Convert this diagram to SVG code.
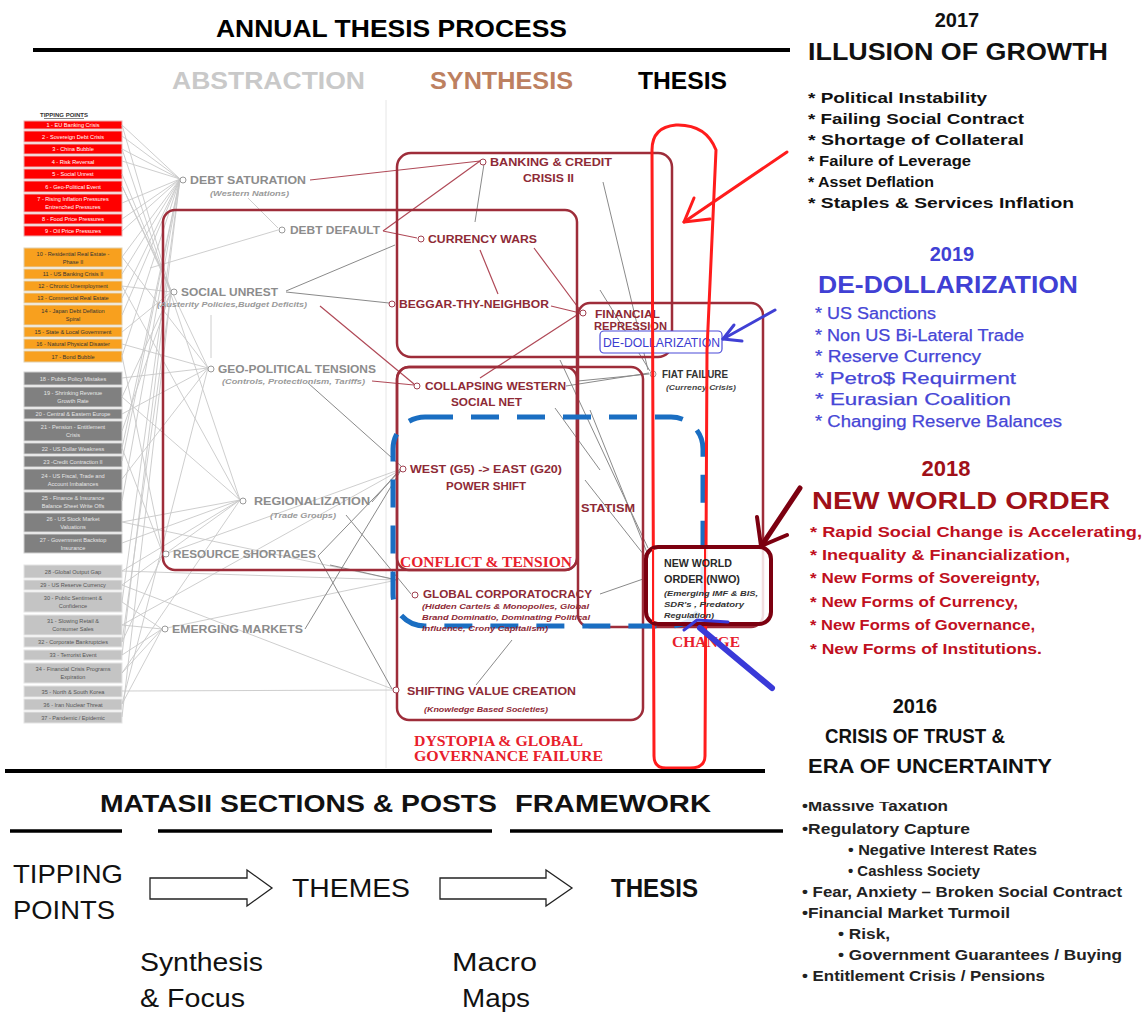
<svg xmlns="http://www.w3.org/2000/svg" width="1146" height="1017" viewBox="0 0 1146 1017">
<defs>
<style>
.h{font-family:"Liberation Sans",Arial,sans-serif;font-weight:bold}
.r{font-family:"Liberation Sans",Arial,sans-serif}
.tp{font-family:"Liberation Sans",Arial,sans-serif;font-size:5.6px;text-anchor:middle}
.ab{font-family:"Liberation Sans",Arial,sans-serif;font-weight:bold;font-size:11.5px;fill:#8c8c8c}
.abs{font-family:"Liberation Sans",Arial,sans-serif;font-weight:bold;font-style:italic;font-size:7.5px;fill:#9a9a9a}
.sy{font-family:"Liberation Sans",Arial,sans-serif;font-weight:bold;font-size:11px;fill:#8e2a36}
.sys{font-family:"Liberation Sans",Arial,sans-serif;font-weight:bold;font-style:italic;font-size:7.3px;fill:#8e2a36}
.rs{font-family:"Liberation Serif","Times New Roman",serif;font-weight:bold;fill:#e8202c}
.dot{fill:#fff;stroke:#999;stroke-width:1}
.rdot{fill:#fff;stroke:#a04050;stroke-width:1}
.box{fill:none;stroke:#9e2d3a;stroke-width:2.5}
.gl{stroke:#c8c8c8;stroke-width:0.9;fill:none}
.gd{stroke:#8a8a8a;stroke-width:1;fill:none}
.rl{stroke:#b04a58;stroke-width:1.2;fill:none}
.b17{font-family:"Liberation Sans",Arial,sans-serif;font-weight:bold;font-size:15px;fill:#111}
.b19{font-family:"Liberation Sans",Arial,sans-serif;font-size:16px;fill:#4646d6;stroke:#4646d6;stroke-width:0.25}
.b18{font-family:"Liberation Sans",Arial,sans-serif;font-weight:bold;font-size:15px;fill:#c0101e}
.b16{font-family:"Liberation Sans",Arial,sans-serif;font-weight:bold;font-size:14.5px;fill:#222}
.big{font-family:"Liberation Sans",Arial,sans-serif;font-size:26px;fill:#111}
</style>
<clipPath id="clip16"><rect x="790" y="802" width="356" height="200"/></clipPath>
</defs>
<rect width="1146" height="1017" fill="#fff"/>

<!-- headers -->
<g id="headers">
<text class="h" x="216" y="37" font-size="23" textLength="351" lengthAdjust="spacingAndGlyphs">ANNUAL THESIS PROCESS</text>
<line x1="33" y1="50" x2="790" y2="50" stroke="#000" stroke-width="4"/>
<text class="h" x="172" y="89" font-size="23" fill="#c9c9c9" textLength="193" lengthAdjust="spacingAndGlyphs">ABSTRACTION</text>
<text class="h" x="430" y="89" font-size="23" fill="#bd8060" textLength="143" lengthAdjust="spacingAndGlyphs">SYNTHESIS</text>
<text class="h" x="638" y="89" font-size="23" fill="#000" textLength="89" lengthAdjust="spacingAndGlyphs">THESIS</text>
</g>

<!-- tipping points list -->
<g id="tipping-points">
<text class="h" x="64" y="117" font-size="6" text-anchor="middle" fill="#333">TIPPING POINTS</text>
<line x1="44" y1="118.5" x2="84" y2="118.5" stroke="#333" stroke-width="0.6"/>
<g fill="#ff0000" stroke="#e8b0b0" stroke-width="1">
<rect x="24" y="121" width="98" height="8"/><rect x="24" y="131" width="98" height="11"/><rect x="24" y="144" width="98" height="10"/><rect x="24" y="156" width="98" height="11"/><rect x="24" y="169" width="98" height="10"/><rect x="24" y="181" width="98" height="11"/><rect x="24" y="194" width="98" height="18"/><rect x="24" y="214" width="98" height="10"/><rect x="24" y="226" width="98" height="10"/>
</g>
<g class="tp" fill="#fff">
<text x="73" y="127">1 - EU Banking Crisis</text>
<text x="73" y="138.5">2 - Sovereign Debt Crisis</text>
<text x="73" y="151">3 - China Bubble</text>
<text x="73" y="163.5">4 - Risk Reversal</text>
<text x="73" y="176">5 - Social Unrest</text>
<text x="73" y="188.5">6 - Geo-Political Event</text>
<text x="73" y="201">7 - Rising Inflation Pressures</text>
<text x="73" y="208.5">Entrenched Pressures</text>
<text x="73" y="221">8 - Food Price Pressures</text>
<text x="73" y="233">9 - Oil Price Pressures</text>
</g>
<g fill="#f8a01e" stroke="#e0d0b0" stroke-width="1">
<rect x="24" y="248" width="98" height="19"/><rect x="24" y="269" width="98" height="10"/><rect x="24" y="281" width="98" height="10"/><rect x="24" y="293" width="98" height="10"/><rect x="24" y="305" width="98" height="20"/><rect x="24" y="327" width="98" height="10"/><rect x="24" y="339" width="98" height="10"/><rect x="24" y="351" width="98" height="11"/>
</g>
<g class="tp" fill="#333">
<text x="73" y="255.5">10 - Residential Real Estate -</text>
<text x="73" y="263.5">Phase II</text>
<text x="73" y="276">11 - US Banking Crisis II</text>
<text x="73" y="288">12 - Chronic Unemployment</text>
<text x="73" y="300">13 - Commercial Real Estate</text>
<text x="73" y="313">14 - Japan Debt Deflation</text>
<text x="73" y="321">Spiral</text>
<text x="73" y="334">15 - State &amp; Local Government</text>
<text x="73" y="346">16 - Natural Physical Disaster</text>
<text x="73" y="358.5">17 - Bond Bubble</text>
</g>
<g fill="#808080" stroke="#d0d0d0" stroke-width="1">
<rect x="24" y="372" width="98" height="13"/><rect x="24" y="387" width="98" height="20"/><rect x="24" y="409" width="98" height="10"/><rect x="24" y="421" width="98" height="20"/><rect x="24" y="443" width="98" height="11"/><rect x="24" y="456" width="98" height="11"/><rect x="24" y="469" width="98" height="21"/><rect x="24" y="492" width="98" height="19"/><rect x="24" y="513" width="98" height="19"/><rect x="24" y="534" width="98" height="19"/>
</g>
<g class="tp" fill="#e6e6e6">
<text x="73" y="380.5">18 - Public Policy Mistakes</text>
<text x="73" y="395">19 - Shrinking Revenue</text>
<text x="73" y="403">Growth Rate</text>
<text x="73" y="416">20 - Central &amp; Eastern Europe</text>
<text x="73" y="429">21 - Pension - Entitlement</text>
<text x="73" y="437">Crisis</text>
<text x="73" y="450.5">22 - US Dollar Weakness</text>
<text x="73" y="463.5">23 -Credit Contraction II</text>
<text x="73" y="477.5">24 - US Fiscal, Trade and</text>
<text x="73" y="485.5">Account Imbalances</text>
<text x="73" y="499.5">25 - Finance &amp; Insurance</text>
<text x="73" y="507.5">Balance Sheet Write Offs</text>
<text x="73" y="520.5">26 - US Stock Market</text>
<text x="73" y="528.5">Valuations</text>
<text x="73" y="541.5">27 - Government Backstop</text>
<text x="73" y="549.5">Insurance</text>
</g>
<g fill="#c4c4c4" stroke="#e4e4e4" stroke-width="1">
<rect x="24" y="565" width="98" height="13"/><rect x="24" y="580" width="98" height="10"/><rect x="24" y="592" width="98" height="20"/><rect x="24" y="615" width="98" height="20"/><rect x="24" y="637" width="98" height="10"/><rect x="24" y="650" width="98" height="10"/><rect x="24" y="663" width="98" height="20"/><rect x="24" y="686" width="98" height="11"/><rect x="24" y="699" width="98" height="11"/><rect x="24" y="712" width="98" height="11"/>
</g>
<g class="tp" fill="#555">
<text x="73" y="573.5">28 -Global Output Gap</text>
<text x="73" y="587">29 - US Reserve Currency</text>
<text x="73" y="600">30 - Public Sentiment &amp;</text>
<text x="73" y="608">Confidence</text>
<text x="73" y="623">31 - Slowing Retail &amp;</text>
<text x="73" y="631">Consumer Sales</text>
<text x="73" y="644">32 - Corporate Bankruptcies</text>
<text x="73" y="657">33 - Terrorist Event</text>
<text x="73" y="671">34 - Financial Crisis Programs</text>
<text x="73" y="679">Expiration</text>
<text x="73" y="693.5">35 - North &amp; South Korea</text>
<text x="73" y="706.5">36 - Iran Nuclear Threat</text>
<text x="73" y="719.5">37 - Pandemic / Epidemic</text>
</g>
</g>

<!-- connectors -->
<g id="connectors">
<line x1="386" y1="100" x2="386" y2="768" stroke="#e6e6e6" stroke-width="1"/>
<path class="gl" d="M122,125 L180,179 M122,136 L180,179 M122,149 L180,179 M122,161 L180,179 M122,174 L171,292 M122,186 L208,368 M122,203 L180,179 M122,219 L180,179 M122,231 L180,179 M122,125 L171,292 M122,149 L240,500 M122,186 L171,292
M122,257 L180,179 M122,274 L180,179 M122,286 L171,292 M122,298 L180,179 M122,315 L180,179 M122,332 L171,292 M122,344 L208,368 M122,356 L180,179 M122,257 L208,368 M122,286 L240,500 M122,356 L163,554
M122,378 L208,368 M122,397 L171,292 M122,414 L208,368 M122,431 L171,292 M122,448 L180,179 M122,461 L180,179 M122,479 L208,368 M122,501 L180,179 M122,522 L240,500 M122,543 L240,500 M122,397 L240,500 M122,448 L163,554
M122,571 L240,500 M122,585 L240,500 M122,602 L162,629 M122,625 L162,629 M122,642 L163,554 M122,655 L162,629 M122,673 L162,629 M122,691 L395,690 M122,704 L162,629 M122,717 L171,292 M122,625 L404,468 M122,571 L397,580 M122,585 L395,690 M122,602 L180,179 M122,655 L180,179 M122,704 L208,368 M122,642 L171,292 M122,522 L397,580 M122,673 L240,500"/>
<path class="gl" d="M248,198 L278,228 M278,230 L150,268 M211,315 L211,358 M165,554 L404,468 M162,629 L397,580"/>
<path class="rl" d="M310,180 L480,161 M383,231 L480,161 M383,231 L417,238 M320,306 L414,384 M372,381 L414,385 M480,250 L498,294 M534,248 L580,310 M551,306 L580,313 M480,378 L580,313"/>
<path class="gd" d="M286,291 L395,245 M286,292 L389,303 M484,164 L475,222 M603,182 L648,370 M308,383 L401,466 M372,502 L401,468 M318,556 L401,470 M318,556 L392,689 M305,629 L401,470 M346,515 L411,594 M600,594 L646,578 M476,685 L512,640 M566,386 L649,373 M560,360 L648,548 M590,410 L650,560 M585,480 L648,560 M600,290 L650,371 M578,381 L649,374 M555,408 L600,470 M330,565 L397,580"/>
</g>

<!-- group boxes -->
<g id="group-boxes">
<rect class="box" x="163" y="210" width="414" height="360" rx="12"/>
<rect class="box" x="397" y="153" width="275" height="204" rx="14"/>
<rect class="box" x="397" y="367" width="180" height="203" rx="12"/>
<rect class="box" x="397" y="367" width="246" height="353" rx="12"/>
<rect class="box" x="578" y="303" width="185" height="324" rx="12"/>
<rect x="393" y="417" width="310" height="209" rx="32" fill="none" stroke="#1a6ec2" stroke-width="5" stroke-dasharray="28 18"/>
</g>

<!-- abstraction nodes -->
<g id="debt-saturation"><circle class="dot" cx="183" cy="180" r="3"/><text class="ab" x="190" y="184" textLength="116" lengthAdjust="spacingAndGlyphs">DEBT SATURATION</text><text class="abs" x="210" y="196" textLength="79" lengthAdjust="spacingAndGlyphs">(Western Nations)</text></g>
<g id="debt-default"><circle class="dot" cx="282" cy="230" r="3"/><text class="ab" x="290" y="234" textLength="90" lengthAdjust="spacingAndGlyphs">DEBT DEFAULT</text></g>
<g id="social-unrest"><circle class="dot" cx="174" cy="292" r="3"/><text class="ab" x="181" y="296" textLength="97" lengthAdjust="spacingAndGlyphs">SOCIAL UNREST</text><text class="abs" x="157" y="307" textLength="150" lengthAdjust="spacingAndGlyphs">(Austerity Policies,Budget Deficits)</text></g>
<g id="geo-political-tensions"><circle class="dot" cx="211" cy="369" r="3"/><text class="ab" x="218" y="373" textLength="158" lengthAdjust="spacingAndGlyphs">GEO-POLITICAL TENSIONS</text><text class="abs" x="222" y="384" textLength="143" lengthAdjust="spacingAndGlyphs">(Controls, Protectionism, Tariffs)</text></g>
<g id="regionalization"><circle class="dot" cx="243" cy="501" r="3"/><text class="ab" x="254" y="505" textLength="116" lengthAdjust="spacingAndGlyphs">REGIONALIZATION</text><text class="abs" x="270" y="518" textLength="66" lengthAdjust="spacingAndGlyphs">(Trade Groups)</text></g>
<g id="resource-shortages"><circle class="dot" cx="166" cy="554" r="3"/><text class="ab" x="173" y="558" textLength="143" lengthAdjust="spacingAndGlyphs">RESOURCE SHORTAGES</text></g>
<g id="emerging-markets"><circle class="dot" cx="165" cy="629" r="3"/><text class="ab" x="172" y="633" textLength="131" lengthAdjust="spacingAndGlyphs">EMERGING MARKETS</text></g>

<!-- synthesis nodes -->
<g id="banking-credit-crisis"><circle class="rdot" cx="483" cy="162" r="3"/><text class="sy" x="490" y="166" textLength="122" lengthAdjust="spacingAndGlyphs">BANKING &amp; CREDIT</text><text class="sy" x="523" y="182" textLength="51" lengthAdjust="spacingAndGlyphs">CRISIS II</text></g>
<g id="currency-wars"><circle class="rdot" cx="421" cy="239" r="3"/><text class="sy" x="428" y="243" textLength="109" lengthAdjust="spacingAndGlyphs">CURRENCY WARS</text></g>
<g id="beggar-thy-neighbor"><circle class="rdot" cx="392" cy="304" r="3"/><text class="sy" x="399" y="308" textLength="150" lengthAdjust="spacingAndGlyphs">BEGGAR-THY-NEIGHBOR</text></g>
<g id="collapsing-western-social-net"><circle class="rdot" cx="417" cy="386" r="3"/><text class="sy" x="425" y="390" textLength="141" lengthAdjust="spacingAndGlyphs">COLLAPSING WESTERN</text><text class="sy" x="451" y="406" textLength="71" lengthAdjust="spacingAndGlyphs">SOCIAL NET</text></g>
<g id="west-east-power-shift"><circle class="rdot" cx="403" cy="469" r="3"/><text class="sy" x="410" y="473" textLength="152" lengthAdjust="spacingAndGlyphs">WEST (G5) -&gt; EAST (G20)</text><text class="sy" x="446" y="490" textLength="80" lengthAdjust="spacingAndGlyphs">POWER SHIFT</text></g>
<g id="conflict-tension"><text class="rs" x="400" y="567" font-size="14" textLength="172" lengthAdjust="spacingAndGlyphs">CONFLICT &amp; TENSION</text></g>
<g id="global-corporatocracy"><circle class="rdot" cx="415" cy="595" r="3"/><text class="sy" x="423" y="598" textLength="169" lengthAdjust="spacingAndGlyphs">GLOBAL CORPORATOCRACY</text><text class="sys" x="422" y="609" textLength="167" lengthAdjust="spacingAndGlyphs">(Hidden Cartels &amp; Monopolies, Global</text><text class="sys" x="422" y="620" textLength="168" lengthAdjust="spacingAndGlyphs">Brand Dominatio, Dominating Political</text><text class="sys" x="422" y="631" textLength="126" lengthAdjust="spacingAndGlyphs">Influence, Crony Capitalism)</text></g>
<g id="shifting-value-creation"><circle class="rdot" cx="396" cy="690" r="3"/><text class="sy" x="407" y="695" textLength="169" lengthAdjust="spacingAndGlyphs">SHIFTING VALUE CREATION</text><text class="sys" x="424" y="712" textLength="124" lengthAdjust="spacingAndGlyphs">(Knowledge Based Societies)</text></g>
<g id="dystopia"><text class="rs" x="414" y="746" font-size="15" textLength="169" lengthAdjust="spacingAndGlyphs">DYSTOPIA &amp; GLOBAL</text><text class="rs" x="414" y="761" font-size="15" textLength="189" lengthAdjust="spacingAndGlyphs">GOVERNANCE FAILURE</text></g>
<g id="statism"><text class="sy" x="581" y="512" textLength="54" lengthAdjust="spacingAndGlyphs">STATISM</text></g>
<g id="financial-repression"><circle class="rdot" cx="583" cy="313" r="3"/><text class="sy" x="595" y="318" textLength="65" lengthAdjust="spacingAndGlyphs">FINANCIAL</text><text class="sy" x="594" y="330" textLength="73" lengthAdjust="spacingAndGlyphs">REPRESSION</text></g>
<g id="de-dollarization-tag"><rect x="600" y="331" width="122" height="22" rx="4" fill="#fff" stroke="#4a4ad8" stroke-width="1.2"/><text class="r" x="603" y="347" font-size="12" fill="#3c3cd0" textLength="117" lengthAdjust="spacingAndGlyphs">DE-DOLLARIZATION</text></g>
<g id="fiat-failure"><circle class="dot" cx="653" cy="374" r="3"/><text class="sy" x="662" y="378" style="fill:#333" textLength="66" lengthAdjust="spacingAndGlyphs">FIAT FAILURE</text><text class="sys" x="666" y="390" style="fill:#444" textLength="70" lengthAdjust="spacingAndGlyphs">(Currency Crisis)</text></g>

<!-- red pill -->
<g id="thesis-highlight">
<path d="M652,150 Q652,127 676,125 Q706,124 716,150 L707,350 L705,756 Q705,768 690,768 L666,768 Q654,768 654,756 Z" fill="none" stroke="#ff1c1c" stroke-width="3"/>
</g>

<g id="new-world-order">
<rect x="646" y="547" width="125" height="77" rx="12" fill="#fff" fill-opacity="0.85" stroke="#7c0010" stroke-width="4"/>
<line x1="653" y1="549" x2="653" y2="622" stroke="#ff1c1c" stroke-width="2"/>
<line x1="705" y1="549" x2="705" y2="622" stroke="#ff1c1c" stroke-width="2"/>
<text class="sy" x="664" y="567" style="fill:#2a2a2a" textLength="68" lengthAdjust="spacingAndGlyphs">NEW WORLD</text>
<text class="sy" x="664" y="583" style="fill:#2a2a2a" textLength="76" lengthAdjust="spacingAndGlyphs">ORDER (NWO)</text>
<text class="sys" x="664" y="596" style="fill:#333" textLength="94" lengthAdjust="spacingAndGlyphs">(Emerging IMF &amp; BIS,</text>
<text class="sys" x="664" y="607" style="fill:#333" textLength="80" lengthAdjust="spacingAndGlyphs">SDR's , Predatory</text>
<text class="sys" x="664" y="618" style="fill:#333" textLength="50" lengthAdjust="spacingAndGlyphs">Regulation)</text>
</g>
<g id="change"><text class="rs" x="672" y="647" font-size="15" textLength="68" lengthAdjust="spacingAndGlyphs">CHANGE</text></g>

<!-- arrows -->
<g id="arrows" fill="none" stroke-linecap="round" stroke-linejoin="round">
<line x1="787" y1="152" x2="684" y2="222" stroke="#ff1c1c" stroke-width="3"/>
<path d="M694,198 L684,222 L710,219" stroke="#ff1c1c" stroke-width="3"/>
<line x1="775" y1="310" x2="723" y2="339" stroke="#4040d4" stroke-width="3"/>
<path d="M734,325 L723,339 L742,341" stroke="#4040d4" stroke-width="3"/>
<line x1="800" y1="488" x2="762" y2="545" stroke="#7c0010" stroke-width="5"/>
<path d="M757,517 L761,546 L787,535" stroke="#7c0010" stroke-width="4"/>
<line x1="772" y1="688" x2="700" y2="628" stroke="#3a3ad8" stroke-width="6"/>
<path d="M684,630 L697,620 L728,622" stroke="#3a3ad8" stroke-width="3"/>
</g>

<!-- right column -->
<g id="y2017">
<text class="h" x="957" y="27" font-size="20" text-anchor="middle" fill="#111">2017</text>
<text class="h" x="808" y="60" font-size="24" fill="#111" textLength="300" lengthAdjust="spacingAndGlyphs">ILLUSION OF GROWTH</text>
<text class="b17" x="808" y="103" textLength="179" lengthAdjust="spacingAndGlyphs">* Political Instability</text>
<text class="b17" x="808" y="124" textLength="216" lengthAdjust="spacingAndGlyphs">* Failing Social Contract</text>
<text class="b17" x="808" y="145" textLength="216" lengthAdjust="spacingAndGlyphs">* Shortage of Collateral</text>
<text class="b17" x="808" y="166" textLength="163" lengthAdjust="spacingAndGlyphs">* Failure of Leverage</text>
<text class="b17" x="808" y="187" textLength="126" lengthAdjust="spacingAndGlyphs">* Asset Deflation</text>
<text class="b17" x="808" y="208" textLength="266" lengthAdjust="spacingAndGlyphs">* Staples &amp; Services Inflation</text>
</g>
<g id="y2019">
<text class="h" x="952" y="261" font-size="20" text-anchor="middle" fill="#4040d4">2019</text>
<text class="h" x="818" y="293" font-size="24" fill="#4040d4" textLength="260" lengthAdjust="spacingAndGlyphs">DE-DOLLARIZATION</text>
<text class="b19" x="815" y="319" textLength="121" lengthAdjust="spacingAndGlyphs">* US Sanctions</text>
<text class="b19" x="815" y="341" textLength="209" lengthAdjust="spacingAndGlyphs">* Non US Bi-Lateral Trade</text>
<text class="b19" x="815" y="362" textLength="166" lengthAdjust="spacingAndGlyphs">* Reserve Currency</text>
<text class="b19" x="815" y="384" textLength="201" lengthAdjust="spacingAndGlyphs">* Petro$ Requirment</text>
<text class="b19" x="815" y="405" textLength="196" lengthAdjust="spacingAndGlyphs">* Eurasian Coalition</text>
<text class="b19" x="815" y="427" textLength="247" lengthAdjust="spacingAndGlyphs">* Changing Reserve Balances</text>
</g>
<g id="y2018">
<text class="h" x="946" y="476" font-size="22" text-anchor="middle" fill="#a01018">2018</text>
<text class="h" x="812" y="509" font-size="24" fill="#a01018" textLength="298" lengthAdjust="spacingAndGlyphs">NEW WORLD ORDER</text>
<text class="b18" x="810" y="537" textLength="332" lengthAdjust="spacingAndGlyphs">* Rapid Social Change is Accelerating,</text>
<text class="b18" x="810" y="560" textLength="260" lengthAdjust="spacingAndGlyphs">* Inequality &amp; Financialization,</text>
<text class="b18" x="810" y="583" textLength="230" lengthAdjust="spacingAndGlyphs">* New Forms of Sovereignty,</text>
<text class="b18" x="810" y="607" textLength="208" lengthAdjust="spacingAndGlyphs">* New Forms of Currency,</text>
<text class="b18" x="810" y="630" textLength="225" lengthAdjust="spacingAndGlyphs">* New Forms of Governance,</text>
<text class="b18" x="810" y="654" textLength="232" lengthAdjust="spacingAndGlyphs">* New Forms of Institutions.</text>
</g>
<g id="y2016">
<text class="h" x="915" y="713" font-size="20" text-anchor="middle" fill="#111">2016</text>
<text class="h" x="825" y="743" font-size="20.5" fill="#111" textLength="180" lengthAdjust="spacingAndGlyphs">CRISIS OF TRUST &amp;</text>
<text class="h" x="808" y="773" font-size="20.5" fill="#111" textLength="244" lengthAdjust="spacingAndGlyphs">ERA OF UNCERTAINTY</text>
<g clip-path="url(#clip16)">
<text class="b16" x="802" y="811" textLength="146" lengthAdjust="spacingAndGlyphs">•Massive Taxation</text>
</g>
<text class="b16" x="802" y="834" textLength="168" lengthAdjust="spacingAndGlyphs">•Regulatory Capture</text>
<text class="b16" x="848" y="855" textLength="189" lengthAdjust="spacingAndGlyphs">• Negative Interest Rates</text>
<text class="b16" x="848" y="876" textLength="132" lengthAdjust="spacingAndGlyphs">• Cashless Society</text>
<text class="b16" x="802" y="897" textLength="320" lengthAdjust="spacingAndGlyphs">• Fear, Anxiety – Broken Social Contract</text>
<text class="b16" x="802" y="918" textLength="208" lengthAdjust="spacingAndGlyphs">•Financial Market Turmoil</text>
<text class="b16" x="838" y="939" textLength="52" lengthAdjust="spacingAndGlyphs">• Risk,</text>
<text class="b16" x="838" y="960" textLength="284" lengthAdjust="spacingAndGlyphs">• Government Guarantees / Buying</text>
<text class="b16" x="802" y="981" textLength="243" lengthAdjust="spacingAndGlyphs">• Entitlement Crisis / Pensions</text>
</g>

<!-- bottom framework -->
<g id="framework">
<line x1="5" y1="771" x2="765" y2="771" stroke="#000" stroke-width="4"/>
<text class="h" x="100" y="812" font-size="23" fill="#111" textLength="397" lengthAdjust="spacingAndGlyphs">MATASII SECTIONS &amp; POSTS</text>
<text class="h" x="515" y="812" font-size="23" fill="#111" textLength="196" lengthAdjust="spacingAndGlyphs">FRAMEWORK</text>
<line x1="10" y1="831" x2="122" y2="831" stroke="#000" stroke-width="3.5"/>
<line x1="158" y1="831" x2="492" y2="831" stroke="#000" stroke-width="3.5"/>
<line x1="510" y1="831" x2="783" y2="831" stroke="#000" stroke-width="3.5"/>
</g>
<g id="tipping-points-step">
<text class="big" x="13" y="883" textLength="110" lengthAdjust="spacingAndGlyphs">TIPPING</text>
<text class="big" x="13" y="919" textLength="102" lengthAdjust="spacingAndGlyphs">POINTS</text>
</g>
<g id="themes-step"><text class="big" x="292" y="897" textLength="118" lengthAdjust="spacingAndGlyphs">THEMES</text></g>
<g id="thesis-step"><text class="big" x="611" y="897" font-weight="bold" textLength="87" lengthAdjust="spacingAndGlyphs">THESIS</text></g>
<g id="synthesis-focus"><text class="big" x="140" y="971" textLength="123" lengthAdjust="spacingAndGlyphs">Synthesis</text><text class="big" x="140" y="1007" textLength="105" lengthAdjust="spacingAndGlyphs">&amp; Focus</text></g>
<g id="macro-maps"><text class="big" x="452" y="971" textLength="85" lengthAdjust="spacingAndGlyphs">Macro</text><text class="big" x="462" y="1007" textLength="68" lengthAdjust="spacingAndGlyphs">Maps</text></g>
<g id="flow-arrows" fill="#fff" stroke="#222" stroke-width="1.3">
<path d="M150,878 L247,878 L247,870 L272,888 L247,906 L247,899 L150,899 Z"/>
<path d="M440,878 L546,878 L546,870 L572,888 L546,906 L546,899 L440,899 Z"/>
</g>
</svg>
